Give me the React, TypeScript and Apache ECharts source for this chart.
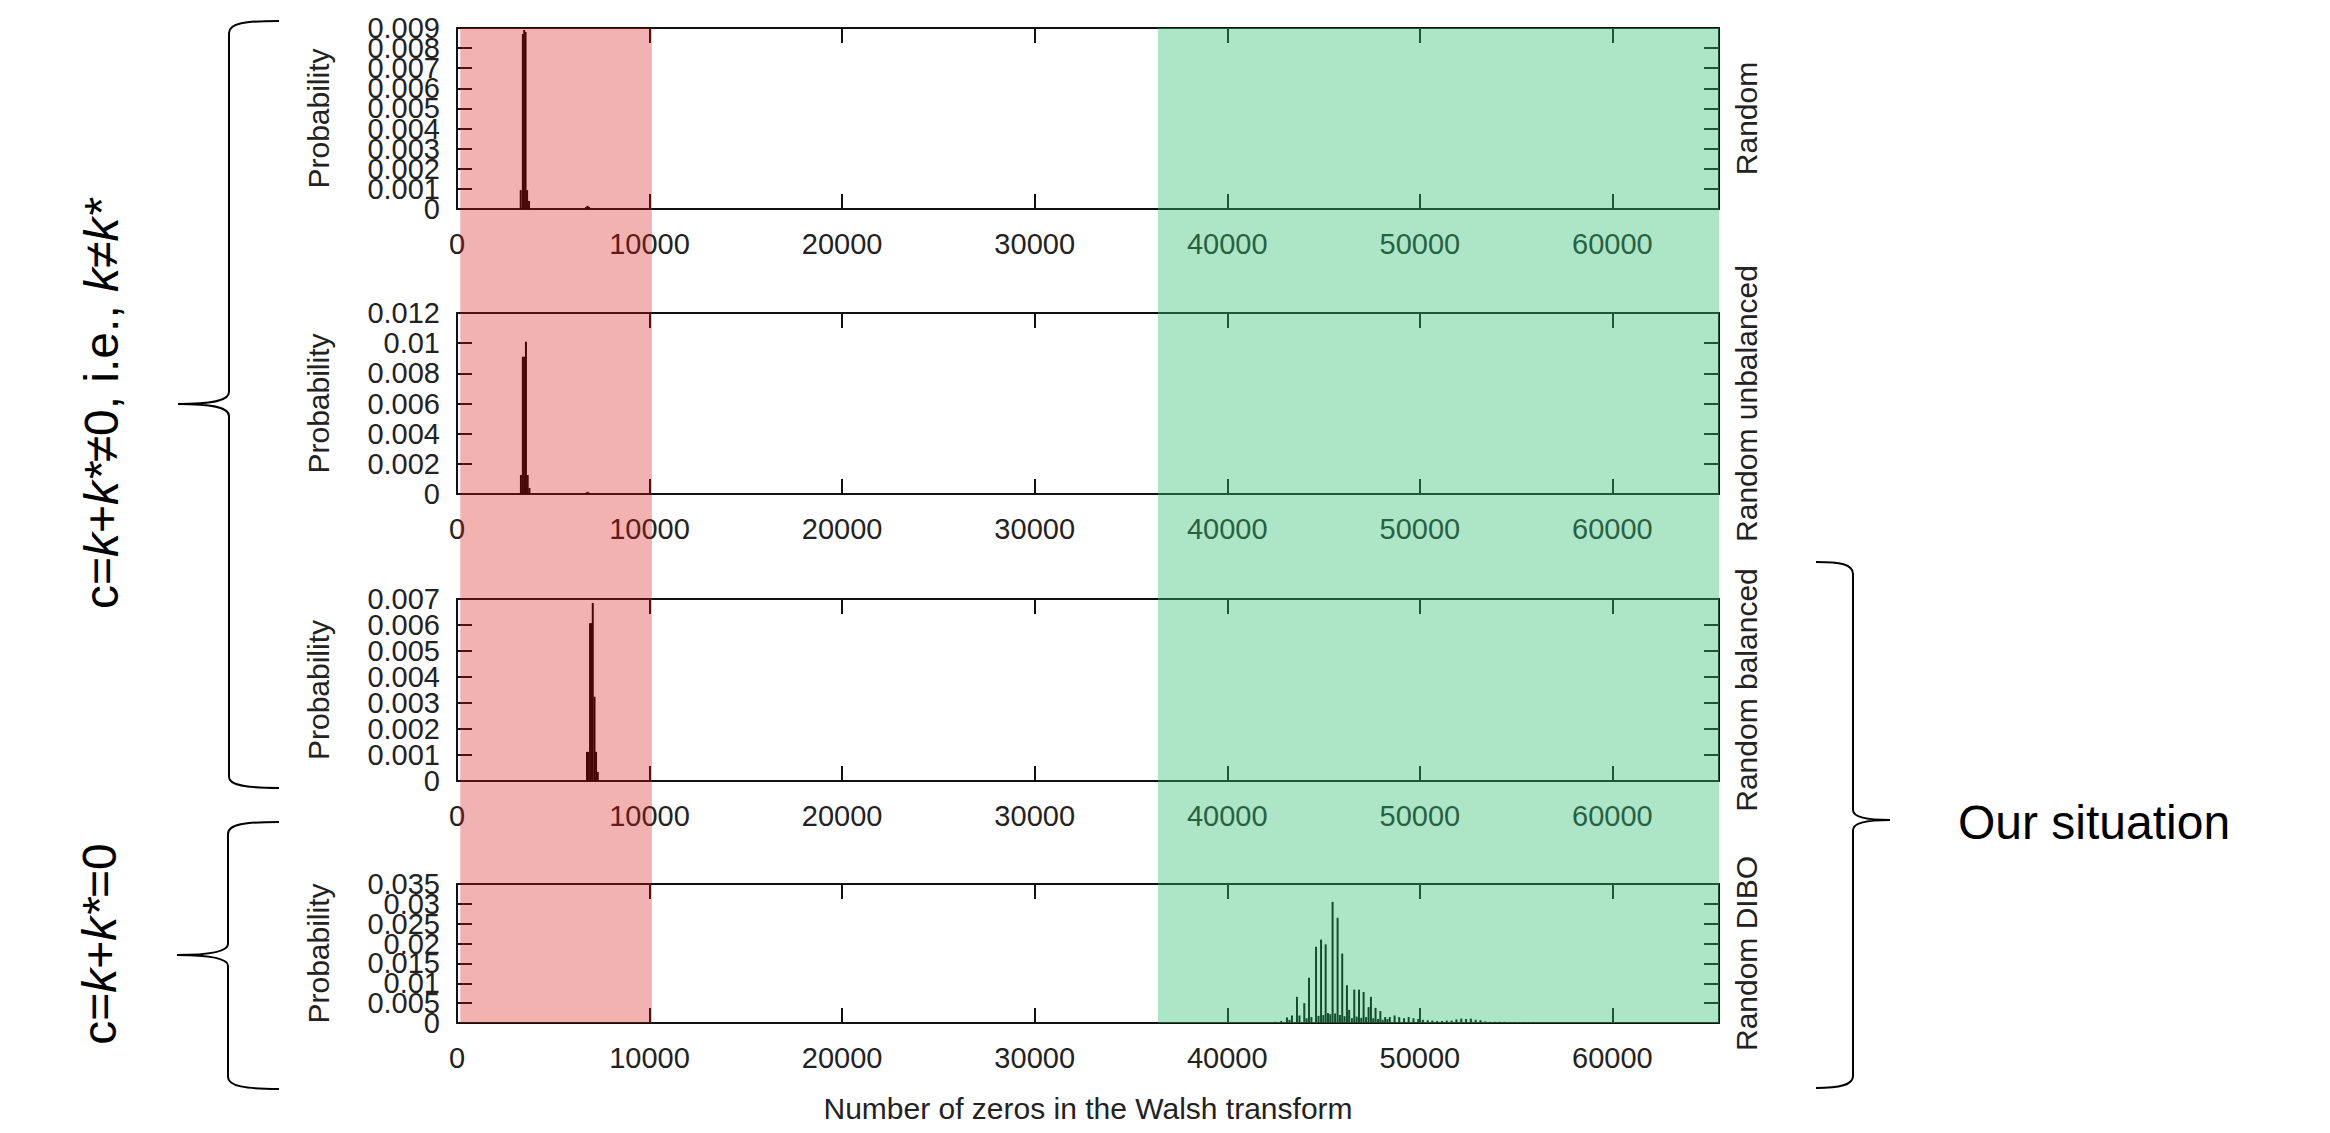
import React, { useEffect, useRef } from 'react';
import * as echarts from 'echarts';

// ---------- data ----------
const X_MIN = 0;
const X_MAX = 65536;
const X_STEP = 10000;
const X_AXIS_TITLE = 'Number of zeros in the Walsh transform';
const Y_AXIS_TITLE = 'Probability';
const PANEL_NAMES = ['Random', 'Random unbalanced', 'Random balanced', 'Random DIBO'];
const Y_MAX = [0.009, 0.012, 0.007, 0.035];
const Y_STEP = [0.001, 0.002, 0.001, 0.005];

const RED_BAND = [170, 10120];
const GREEN_BAND = [36400, 65536];

const RANDOM_X = [3310, 3420, 3490, 3560, 3640, 3740, 6700, 6780, 6860];
const RANDOM_P = [0.00094, 0.0087, 0.0089, 0.0088, 0.00094, 0.0004, 0.0001, 0.00016, 0.0001];

const UNBAL_X = [3320, 3420, 3500, 3580, 3670, 3760, 6700, 6780, 6860];
const UNBAL_P = [0.00126, 0.0091, 0.0091, 0.0101, 0.00126, 0.0004, 0.00008, 0.00014, 0.00008];

const BAL_X = [6750, 6820, 6910, 6980, 7050, 7140, 7220, 7310];
const BAL_P = [0.00112, 0.00112, 0.00607, 0.00607, 0.00685, 0.00324, 0.00112, 0.00035];

const DIBO_X = [
  42500, 42800, 43100, 43230, 43360, 43620, 43750, 44000, 44120, 44245, 44370, 44610, 44740,
  44870, 44990, 45110, 45230, 45350, 45470, 45600, 45730, 45850, 45970, 46090, 46215, 46330,
  46470, 46595, 46720, 46840, 46960, 47080, 47210, 47340, 47460, 47580, 47700, 47830, 47950,
  48070, 48200, 48320, 48440, 48690, 48930, 49180, 49420, 49670, 49920, 50160, 50410, 50650,
  50900, 51150, 51400, 51650, 51900, 52150, 52400, 52650, 52900, 53150, 53400, 53650, 53900,
  54150, 54400, 54650, 54900, 55150, 55400, 55650, 55900, 56150, 56400, 56650, 57000, 57500,
  58000, 58500, 59000, 59500, 60000,
];
const DIBO_P = [
  0.0003, 0.0005, 0.0014, 0.0008, 0.0019, 0.0066, 0.0019, 0.005, 0.0012, 0.0114, 0.0015, 0.0192, 0.0018,
  0.021, 0.002, 0.0198, 0.0025, 0.0022, 0.0305, 0.0024, 0.0265, 0.002, 0.0175, 0.0017, 0.0095, 0.0033,
  0.0012, 0.0084, 0.0016, 0.0084, 0.0013, 0.0078, 0.0015, 0.004, 0.0066, 0.0012, 0.0038, 0.001, 0.003,
  0.0008, 0.0015, 0.001, 0.0015, 0.0019, 0.0015, 0.0012, 0.0015, 0.0012, 0.001, 0.0008, 0.0007, 0.0006,
  0.0005, 0.0005, 0.0006, 0.0006, 0.0009, 0.0011, 0.001, 0.0011, 0.0008, 0.0007, 0.0004, 0.0003, 0.0003,
  0.0003, 0.0003, 0.0002, 0.0002, 0.0002, 0.0002, 0.0002, 0.0002, 0.0001, 0.0001, 0.0001, 0.0001, 0.0001,
  0.0001, 0.00008, 0.00008, 0.00005, 0.00005,
];

const PANEL_X = [RANDOM_X, UNBAL_X, BAL_X, DIBO_X];
const PANEL_P = [RANDOM_P, UNBAL_P, BAL_P, DIBO_P];

// ---------- layout ----------
const W = 2330;
const H = 1133;
const GRID_LEFT = 457;
const GRID_WIDTH = 1262;
const GRID_TOPS = [28, 313, 599, 884];
const GRID_HEIGHTS = [181, 181, 182, 139];
const FONT = 'Liberation Sans, Arial, Helvetica, sans-serif';
const AXIS_COLOR = '#111';
const LABEL_COLOR = '#222';

// braces (annotation shapes)
const BRACE_L1 =
  'M279,21 C245,21 229,23 229,33 L229,392 C229,400 215,404 178,404 C215,404 229,408 229,416 L229,777 C229,785 245,788 279,788';
const BRACE_L2 =
  'M279,822 C245,822 228,824 228,834 L228,944 C228,951 214,955 177,955 C214,955 228,959 228,966 L228,1077 C228,1086 245,1089 279,1089';
const BRACE_R =
  'M1816,562 C1840,562 1853,564 1853,574 L1853,810 C1853,816 1862,820 1890,820 C1862,820 1853,824 1853,830 L1853,1076 C1853,1085 1840,1088 1816,1088';

let registered = false;
function registerShapes() {
  if (registered) return;
  registered = true;
  echarts.graphic.registerShape('braceL1', echarts.graphic.extendPath(BRACE_L1, {}));
  echarts.graphic.registerShape('braceL2', echarts.graphic.extendPath(BRACE_L2, {}));
  echarts.graphic.registerShape('braceR', echarts.graphic.extendPath(BRACE_R, {}));
}

// tick values of a panel's y axis, split in even / odd positions so that
// ECharts draws all of them (they overlap, as in the original)
function tickValues(i: number, parity: number) {
  const n = Math.round(Y_MAX[i] / Y_STEP[i]);
  const out: number[] = [];
  for (let k = parity; k <= n; k += 2) out.push(Number((k * Y_STEP[i]).toFixed(6)));
  return out;
}

export default function App() {
  const ref = useRef<HTMLDivElement>(null);

  useEffect(() => {
    if (!ref.current) return;
    registerShapes();
    const chart = echarts.init(ref.current, undefined, { renderer: 'svg', width: W, height: H });

    const grids = GRID_TOPS.map((top, i) => ({
      left: GRID_LEFT,
      top,
      width: GRID_WIDTH,
      height: GRID_HEIGHTS[i],
      containLabel: false,
    }));

    const axisLine = { show: true, onZero: false, lineStyle: { color: AXIS_COLOR, width: 2 } };
    const axisTick = { show: true, inside: true, length: 15, lineStyle: { color: AXIS_COLOR, width: 2 } };
    const yLabel = {
      show: true,
      margin: 17,
      fontSize: 29,
      fontFamily: FONT,
      color: LABEL_COLOR,
      showMinLabel: true,
      showMaxLabel: true,
      hideOverlap: false,
    };

    const xBottom = GRID_TOPS.map((_, i) => ({
      type: 'value',
      gridIndex: i,
      position: 'bottom',
      min: X_MIN,
      max: X_MAX,
      interval: X_STEP,
      axisLine,
      axisTick,
      splitLine: { show: false },
      axisLabel: {
        show: true,
        margin: 20,
        fontSize: 29,
        fontFamily: FONT,
        color: LABEL_COLOR,
        showMinLabel: true,
        showMaxLabel: false,
        formatter: (v: number) => String(v),
      },
      ...(i === 3
        ? {
            name: X_AXIS_TITLE,
            nameLocation: 'middle',
            nameGap: 70,
            nameTextStyle: { fontSize: 30, fontFamily: FONT, color: LABEL_COLOR },
          }
        : {}),
    }));
    const xTop = GRID_TOPS.map((_, i) => ({
      type: 'value',
      gridIndex: i,
      position: 'top',
      min: X_MIN,
      max: X_MAX,
      interval: X_STEP,
      axisLine,
      axisTick,
      splitLine: { show: false },
      axisLabel: { show: false, showMaxLabel: false },
    }));
    // main left axes: line, ticks, even labels, title
    const yLeft = GRID_TOPS.map((_, i) => ({
      type: 'value',
      gridIndex: i,
      position: 'left',
      min: 0,
      max: Y_MAX[i],
      interval: Y_STEP[i],
      axisLine,
      axisTick,
      splitLine: { show: false },
      axisLabel: { ...yLabel, customValues: tickValues(i, 0) },
      name: Y_AXIS_TITLE,
      nameLocation: 'middle',
      nameGap: 124,
      nameTextStyle: { fontSize: 30, fontFamily: FONT, color: LABEL_COLOR },
    }));
    // right mirror axes with the panel names
    const yRight = GRID_TOPS.map((_, i) => ({
      type: 'value',
      gridIndex: i,
      position: 'right',
      min: 0,
      max: Y_MAX[i],
      interval: Y_STEP[i],
      axisLine,
      axisTick,
      splitLine: { show: false },
      axisLabel: { show: false },
      name: PANEL_NAMES[i],
      nameLocation: 'middle',
      nameRotate: 90,
      nameGap: 12,
      nameTextStyle: { fontSize: 30, fontFamily: FONT, color: LABEL_COLOR },
    }));
    // secondary left axes: odd labels only
    const yLeftOdd = GRID_TOPS.map((_, i) => ({
      type: 'value',
      gridIndex: i,
      position: 'left',
      offset: 0,
      min: 0,
      max: Y_MAX[i],
      interval: Y_STEP[i],
      axisLine: { show: false },
      axisTick: { show: false },
      splitLine: { show: false },
      axisLabel: { ...yLabel, customValues: tickValues(i, 1) },
    }));

    const series = PANEL_X.map((xs, i) => ({
      type: 'bar',
      name: PANEL_NAMES[i],
      xAxisIndex: i,
      yAxisIndex: i,
      barWidth: 2,
      silent: true,
      itemStyle: { color: '#000' },
      data: xs.map((x, j) => [x, PANEL_P[i][j]]),
    }));

    chart.setOption({
      animation: false,
      backgroundColor: '#fff',
      grid: grids,
      xAxis: [...xBottom, ...xTop],
      yAxis: [...yLeft, ...yRight, ...yLeftOdd],
      series,
    });

    const px = (v: number) => chart.convertToPixel({ xAxisIndex: 0 }, v) as number;
    const bandTop = chart.convertToPixel({ yAxisIndex: 0 }, Y_MAX[0]) as number;
    const bandBottom = chart.convertToPixel({ yAxisIndex: 3 }, 0) as number;

    const rich = {
      n: { fontSize: 48, fontFamily: FONT, color: '#000' },
      i: { fontSize: 48, fontFamily: FONT, fontStyle: 'italic', color: '#000' },
    };

    chart.setOption({
      graphic: [
        {
          type: 'rect',
          z: 100,
          silent: true,
          shape: { x: px(RED_BAND[0]), y: bandTop, width: px(RED_BAND[1]) - px(RED_BAND[0]), height: bandBottom - bandTop },
          style: { fill: 'rgba(215,20,20,0.33)' },
        },
        {
          type: 'rect',
          z: 100,
          silent: true,
          shape: { x: px(GREEN_BAND[0]), y: bandTop, width: px(GREEN_BAND[1]) - px(GREEN_BAND[0]), height: bandBottom - bandTop },
          style: { fill: 'rgba(50,192,116,0.4)' },
        },
        { type: 'braceL1', x: 0, y: 0, silent: true, style: { stroke: '#000', fill: 'none', lineWidth: 2 } },
        { type: 'braceL2', x: 0, y: 0, silent: true, style: { stroke: '#000', fill: 'none', lineWidth: 2 } },
        { type: 'braceR', x: 0, y: 0, silent: true, style: { stroke: '#000', fill: 'none', lineWidth: 2 } },
        {
          type: 'text',
          x: 101,
          y: 404,
          rotation: Math.PI / 2,
          silent: true,
          style: {
            text: '{n|c=}{i|k}{n|+}{i|k*}{n|≠0, i.e., }{i|k}{n|≠}{i|k*}',
            rich,
            align: 'center',
            verticalAlign: 'middle',
          },
        },
        {
          type: 'text',
          x: 99,
          y: 944,
          rotation: Math.PI / 2,
          silent: true,
          style: {
            text: '{n|c=}{i|k}{n|+}{i|k*}{n|=0}',
            rich,
            align: 'center',
            verticalAlign: 'middle',
          },
        },
        {
          type: 'text',
          x: 2094,
          y: 822,
          silent: true,
          style: {
            text: 'Our situation',
            fontSize: 48,
            fontFamily: FONT,
            fill: '#000',
            align: 'center',
            verticalAlign: 'middle',
          },
        },
      ],
    });

    return () => {
      chart.dispose();
    };
  }, []);

  return (
    <div
      ref={ref}
      style={{ position: 'fixed', left: 0, top: 0, width: W + 'px', height: H + 'px', background: '#fff' }}
    />
  );
}
